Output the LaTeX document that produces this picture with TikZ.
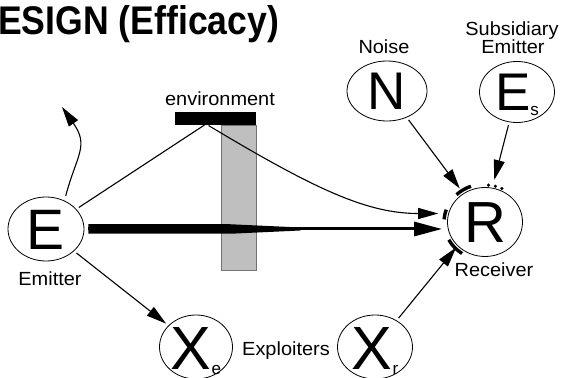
\documentclass[tikz,border=0pt]{standalone}
\usepackage{fontspec}
\setmainfont{Liberation Sans}
\usetikzlibrary{shapes.geometric,arrows.meta}

\tikzset{
  actor/.style={ellipse, draw, line width=0.8pt, inner sep=0pt, text depth=0pt},
  tag/.style={font=\fontsize{19}{21}\selectfont, inner sep=0pt, anchor=base, xscale=1.05},
  link/.style={line width=1.1pt, -{Triangle[length=20pt,width=11pt]}, shorten <=3pt},
  guard/.style={line width=3.4pt},
}
\newcommand{\subtag}[2]{\raisebox{-#1}{\fontsize{17}{17}\selectfont #2}}

\begin{document}
\begin{tikzpicture}[x=1pt,y=1pt]
\useasboundingbox (0,0) rectangle (563,378);
% title
\node[anchor=base west, inner sep=0pt, xscale=0.89, font=\fontsize{40}{40}\selectfont\bfseries] (title) at (-2,343) {ESIGN (Efficacy)};
% environment
\filldraw[fill=black!25, draw=black!55, line width=0.5pt] (221,108) rectangle (256,253);
\fill (175,253) rectangle (256,266);
\node[tag] (envlabel) at (220,272) {environment};
\coordinate (apex) at (206,254);
\coordinate (away) at (62,271);
% actors
\node[actor, minimum width=76pt, minimum height=64pt, font=\fontsize{57}{57}\selectfont, text height=41pt] (E) at (46,149) {E};
\node[actor, minimum width=80pt, minimum height=60pt, font=\fontsize{53}{53}\selectfont, text height=38pt] (N) at (387,287) {N};
\node[actor, minimum width=75pt, minimum height=61pt, font=\fontsize{53}{53}\selectfont, text height=38pt] (Es) at (517,286) {E\subtag{5pt}{s}};
\node[actor, minimum width=75pt, minimum height=69pt, font=\fontsize{58}{58}\selectfont, text height=42pt] (R) at (485,156) {R};
\node[actor, minimum width=73pt, minimum height=64pt, font=\fontsize{61}{61}\selectfont, text height=44pt] (Xe) at (196,31) {X\subtag{5pt}{e}};
\node[actor, minimum width=75pt, minimum height=64pt, font=\fontsize{61}{61}\selectfont, text height=44pt] (Xr) at (375,31) {X\subtag{5pt}{r}};
% labels
\node[tag] (emitter) at (50,92) {Emitter};
\node[tag] (noise) at (384,324) {Noise};
\node[tag] (subsid) at (512,342) {Subsidiary};
\node[tag] (subemit) at (513,324) {Emitter};
\node[tag] (receiver) at (494,101) {Receiver};
\node[tag] (exploit) at (286,23) {Exploiters};
% connectors
\draw[link, shorten <=5pt] (E.57) to[out=75, in=-55, looseness=1.3] (away);
\draw[line width=1.1pt, shorten <=3pt] (E) -- (apex);
\draw[link, shorten >=10pt] (apex) .. controls +(-31:130) and +(-80,0) .. (R.167);
\fill ([shift={(4,4.75)}]E.east) -- ++(142,0) -- ++(70,-3.25) -- ++(0,-3) -- ++(-70,-3.25) -- ++(-142,0) -- cycle;
\draw[line width=3pt, -{Triangle[length=28pt,width=14pt]}, shorten <=4pt, shorten >=5pt] (E.east) -- (E.east -| R.west);
\draw[link, shorten >=6pt] (N) -- (R.127);
\draw[link, shorten >=8pt] (Es) -- (R.78);
\draw[link, shorten >=2pt] (Xr) -- (R.221);
\draw[link, shorten >=3pt] (E) -- (Xe.142);
% receiver guards
\draw[guard] (R.center) ++(110:41 and 38) arc[start angle=110, end angle=134, x radius=41, y radius=38];
\draw[guard] (R.center) ++(161:41 and 38) arc[start angle=161, end angle=176, x radius=41, y radius=38];
\draw[guard] (R.center) ++(208:41 and 38) arc[start angle=208, end angle=236, x radius=41, y radius=38];
\foreach \t in {65,75,85}
  \fill (R.center) ++(\t:40 and 37) circle (1.7pt);
\end{tikzpicture}
\end{document}
